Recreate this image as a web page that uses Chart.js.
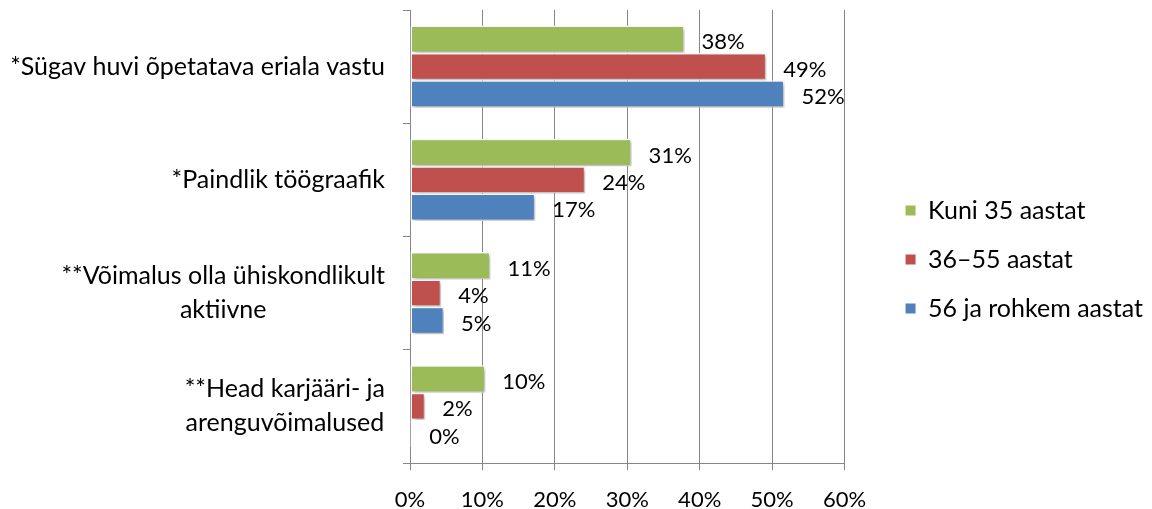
<!DOCTYPE html>
<html lang="et">
<head>
    <meta charset="UTF-8">
    <script src="https://cdn.jsdelivr.net/npm/chart.js"></script>
    <title>Motivatsioon vanuserühmade kaupa</title>
    <style>
        body { margin: 0; background: #fff; }
    </style>
</head>
<body>
    <canvas id="myChart" width="1152" height="509"></canvas>
    <script>
        // data
        const categories = [
            ['*Sügav huvi õpetatava eriala vastu'],
            ['*Paindlik töögraafik'],
            ['**Võimalus olla ühiskondlikult', 'aktiivne'],
            ['**Head karjääri- ja', 'arenguvõimalused']
        ]
        const seriesNames = ['Kuni 35 aastat', '36–55 aastat', '56 ja rohkem aastat']
        const kuni35 = [37.9, 30.6, 11.1, 10.4]
        const vanus36to55 = [49.2, 24.2, 4.3, 2.1]
        const vanus56plus = [51.7, 17.3, 4.7, 0.3]
        const xTicks = [0, 10, 20, 30, 40, 50, 60]

        const colors = ['#9BBB59', '#C0504D', '#4F81BD']
        const gridColor = '#868686'
        const fontFamily = 'Lato, "Open Sans", sans-serif'
        const wordSize = 25
        const numberSize = 22

        // category labels: block right aligned, lines centered inside it (like Excel)
        const categoryLabels = {
            id: 'categoryLabels',
            afterDraw(chart) {
                const ctx = chart.ctx
                const yScale = chart.scales.y
                const rightEdge = chart.chartArea.left - 25
                ctx.save()
                ctx.font = wordSize + 'px ' + fontFamily
                ctx.fillStyle = '#000'
                ctx.textAlign = 'center'
                ctx.textBaseline = 'middle'
                categories.forEach((lines, i) => {
                    const y = yScale.getPixelForValue(i)
                    const lineH = 34
                    const blockW = Math.max(...lines.map(l => ctx.measureText(l).width))
                    const cx = rightEdge - blockW / 2
                    lines.forEach((line, j) => {
                        ctx.fillText(line, cx, y - (lines.length - 1) * lineH / 2 + j * lineH)
                    })
                })
                ctx.restore()
            }
        }

        const valueLabels = {
            id: 'valueLabels',
            afterDatasetsDraw(chart) {
                const ctx = chart.ctx
                ctx.save()
                ctx.font = numberSize + 'px ' + fontFamily
                ctx.fillStyle = '#000'
                ctx.textAlign = 'left'
                ctx.textBaseline = 'middle'
                chart.data.datasets.forEach((ds, di) => {
                    chart.getDatasetMeta(di).data.forEach((bar, i) => {
                        ctx.fillText(Math.round(ds.data[i]) + '%', bar.x + 17, bar.y + 3)
                    })
                })
                ctx.restore()
            }
        }

        const barShadow = {
            id: 'barShadow',
            beforeDatasetsDraw(chart) {
                const ctx = chart.ctx
                ctx.save()
                ctx.shadowColor = 'rgba(0,0,0,0.3)'
                ctx.shadowBlur = 4
                ctx.shadowOffsetX = 2
                ctx.shadowOffsetY = 2
            },
            afterDatasetsDraw(chart) {
                chart.ctx.restore()
            }
        }

        // leave a gap between plot and legend (legend sits right of the plot)
        const legendGap = {
            id: 'legendGap',
            afterLayout(chart) {
                const legend = chart.legend
                const shift = chart.chartArea.right + 37 - legend.left
                legend.left += shift
                legend.right += shift
            }
        }

        function showChart() {
            const ctx = document.getElementById('myChart')
            new Chart(ctx, {
                type: 'bar',
                data: {
                    labels: categories,
                    datasets: [kuni35, vanus36to55, vanus56plus].map((values, i) => ({
                        label: seriesNames[i],
                        data: values,
                        backgroundColor: colors[i],
                        borderColor: '#fff',
                        borderWidth: 1.5,
                        borderSkipped: false,
                        barPercentage: 1,
                        categoryPercentage: 0.725
                    }))
                },
                options: {
                    indexAxis: 'y',
                    responsive: false,
                    animation: false,
                    layout: { padding: { top: 10, right: 36, bottom: 0, left: 0 } },
                    scales: {
                        x: {
                            min: xTicks[0],
                            max: xTicks[xTicks.length - 1],
                            afterBuildTicks: (scale) => { scale.ticks = xTicks.map(v => ({ value: v })) },
                            afterFit: (scale) => { scale.height = 46 },
                            grid: { color: gridColor, lineWidth: 1, tickLength: 7 },
                            border: { color: gridColor },
                            ticks: {
                                color: '#000',
                                padding: 17,
                                font: { family: fontFamily, size: numberSize },
                                callback: (value) => value + '%'
                            }
                        },
                        y: {
                            afterFit: (scale) => { scale.width = 410 },
                            grid: { offset: true, drawOnChartArea: false, color: gridColor, tickLength: 7 },
                            border: { color: gridColor },
                            ticks: { display: false }
                        }
                    },
                    plugins: {
                        tooltip: { enabled: false },
                        legend: {
                            position: 'right',
                            labels: {
                                boxWidth: 10,
                                boxHeight: 10,
                                padding: 24,
                                color: '#000',
                                font: { family: fontFamily, size: wordSize },
                                generateLabels: (chart) => Chart.defaults.plugins.legend.labels.generateLabels(chart)
                                    .map(item => ({ ...item, strokeStyle: item.fillStyle, lineWidth: 0 }))
                            }
                        }
                    }
                },
                plugins: [barShadow, valueLabels, categoryLabels, legendGap]
            })
        }

        Promise.all([
            document.fonts.load(wordSize + 'px Lato'),
            document.fonts.load(numberSize + 'px Lato')
        ]).then(showChart, showChart)
    </script>
</body>
</html>
